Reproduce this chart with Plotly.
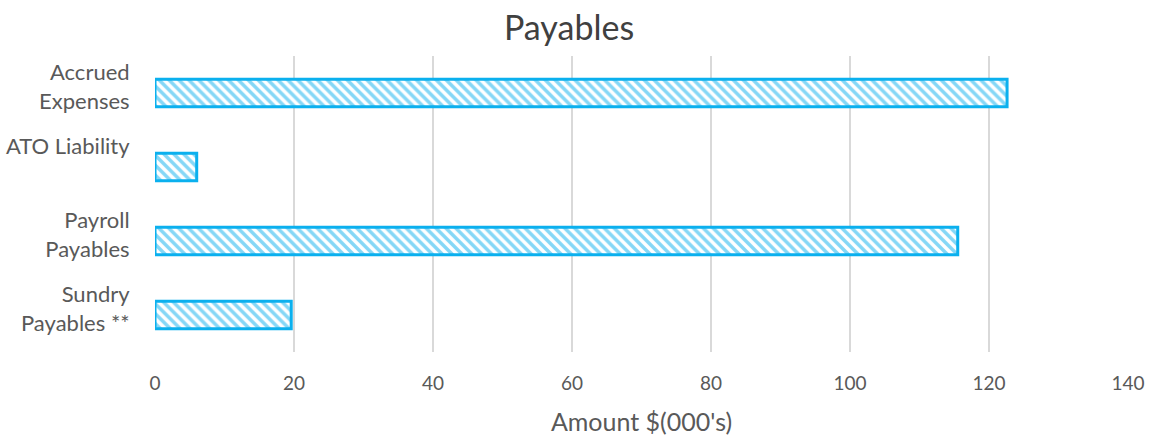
import plotly.graph_objects as go

# Payables by category, amounts in $'000
categories = ["Accrued Expenses", "ATO Liability", "Payroll Payables", "Sundry Payables **"]
tick_labels = ["Accrued<br>Expenses", "ATO Liability<br> ", "Payroll<br>Payables", "Sundry<br>Payables **"]
amounts = [122.6, 6.0, 115.5, 19.6]

BLUE = "#0BB0EE"
GREY_TEXT = "#595959"
FONT = "Lato"

fig = go.Figure(
    go.Bar(
        y=categories,
        x=amounts,
        orientation="h",
        width=0.37,
        marker=dict(
            color="white",
            line=dict(color=BLUE, width=3),
            pattern=dict(shape="\\", fgcolor=BLUE, bgcolor="white", size=7, solidity=0.5),
        ),
        showlegend=False,
    )
)

fig.update_layout(
    width=1152,
    height=436,
    margin=dict(l=155, r=24, t=56, b=84),
    paper_bgcolor="white",
    plot_bgcolor="white",
    font=dict(family=FONT, color=GREY_TEXT, size=19),
    title=dict(text="Payables", x=0.494, xanchor="center", y=0.935, yanchor="middle",
               font=dict(size=34, color="#404040", family=FONT)),
    xaxis=dict(
        range=[0, 140],
        dtick=20,
        automargin=False,
        showgrid=True,
        gridcolor="#D9D9D9",
        gridwidth=2,
        zeroline=False,
        showline=False,
        ticks="outside",
        ticklen=14,
        tickcolor="rgba(0,0,0,0)",
        tickfont=dict(size=19, color=GREY_TEXT),
        title=dict(text="Amount $(000's)", font=dict(size=25, color=GREY_TEXT), standoff=24),
    ),
    yaxis=dict(
        categoryorder="array",
        categoryarray=categories,
        autorange="reversed",
        automargin=False,
        tickmode="array",
        tickvals=categories,
        ticktext=tick_labels,
        ticklabelshift=6,
        showgrid=False,
        zeroline=False,
        showline=False,
        ticks="outside",
        ticklen=20,
        tickcolor="rgba(0,0,0,0)",
        tickfont=dict(size=22, color=GREY_TEXT),
    ),
)

fig.write_html("out.html")
